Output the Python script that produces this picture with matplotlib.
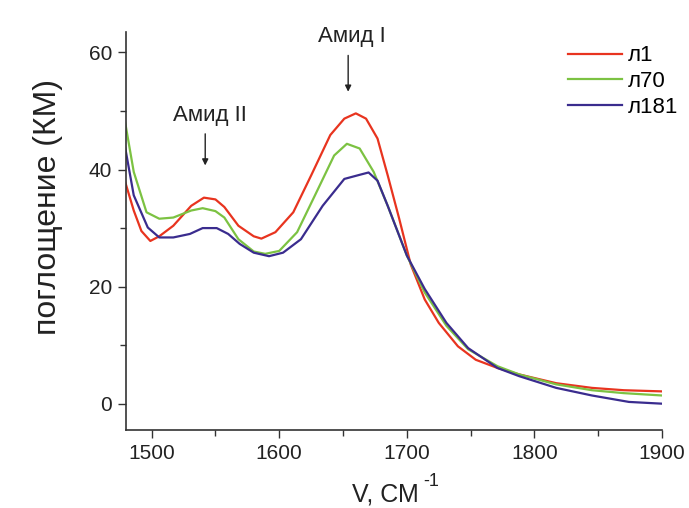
import matplotlib
matplotlib.use('Agg')
from matplotlib import pyplot as plt
from matplotlib.ticker import MultipleLocator

plt.rcParams['font.family'] = ['Liberation Sans', 'DejaVu Sans']

# wavenumber (cm-1) / absorbance (KM)
wn_l1 = [1479, 1486, 1492, 1499, 1506, 1517, 1531, 1541, 1550, 1557, 1568, 1580,
         1586, 1597, 1611, 1625, 1640, 1651, 1660, 1668, 1677, 1685, 1694, 1703,
         1714, 1725, 1740, 1754, 1771, 1788, 1817, 1845, 1870, 1900]
ab_l1 = [38.1, 33.0, 29.5, 27.8, 28.6, 30.4, 33.8, 35.2, 34.9, 33.6, 30.4, 28.6,
         28.2, 29.3, 32.7, 39.0, 45.9, 48.7, 49.6, 48.7, 45.3, 39.0, 31.6, 23.8,
         17.8, 13.8, 9.8, 7.5, 6.1, 5.0, 3.5, 2.7, 2.3, 2.1]

wn_l70 = [1479, 1486, 1496, 1506, 1517, 1531, 1540, 1550, 1557, 1568, 1580, 1589,
          1600, 1614, 1628, 1643, 1653, 1663, 1674, 1685, 1700, 1714, 1731, 1748,
          1771, 1788, 1817, 1845, 1870, 1900]
ab_l70 = [48.4, 39.6, 32.7, 31.6, 31.8, 33.0, 33.4, 32.9, 31.8, 28.1, 26.0, 25.6,
          26.1, 29.3, 35.6, 42.4, 44.4, 43.6, 39.6, 33.8, 25.3, 19.0, 13.3, 9.3,
          6.4, 5.0, 3.3, 2.3, 1.8, 1.4]

wn_l181 = [1479, 1486, 1497, 1506, 1517, 1530, 1540, 1551, 1560, 1569, 1580, 1592,
           1603, 1617, 1634, 1651, 1663, 1670, 1677, 1685, 1700, 1714, 1731, 1748,
           1771, 1788, 1817, 1845, 1874, 1900]
ab_l181 = [44.1, 35.6, 30.1, 28.4, 28.4, 29.0, 30.0, 30.0, 29.0, 27.3, 25.8, 25.2,
           25.8, 28.1, 33.8, 38.4, 39.1, 39.5, 38.1, 33.8, 25.3, 19.6, 13.8, 9.5,
           6.1, 4.7, 2.7, 1.4, 0.3, 0.0]

labels = ['л1', 'л70', 'л181']
colors = ['#e8341f', '#7cc242', '#3a2c8e']

fig = plt.figure(figsize=(6.89, 5.08), dpi=100)
ax = fig.add_axes([0.183, 0.1535, 0.778, 0.7835])

for x, y, lab, c in zip([wn_l1, wn_l70, wn_l181], [ab_l1, ab_l70, ab_l181],
                        labels, colors):
    ax.plot(x, y, color=c, lw=1.6, label=lab)

ax.set_xlim(1480, 1900)
ax.set_ylim(-4.5, 63.5)
ax.xaxis.set_major_locator(MultipleLocator(100))
ax.xaxis.set_minor_locator(MultipleLocator(50))
ax.yaxis.set_major_locator(MultipleLocator(20))
ax.yaxis.set_minor_locator(MultipleLocator(10))
ax.tick_params(which='both', direction='out', labelsize=15, color='#333333',
               labelcolor='#222222')
ax.tick_params(which='major', length=6, width=1, pad=4)
ax.tick_params(which='minor', length=4, width=1)
for s in ['top', 'right']:
    ax.spines[s].set_visible(False)
for s in ['left', 'bottom']:
    ax.spines[s].set_linewidth(1.2)
    ax.spines[s].set_color('#333333')

ax.set_ylabel('поглощение (КМ)', fontsize=23, color='#222222')
ax.yaxis.set_label_coords(-0.118, 0.56)
# x label drawn by hand so the superscript can sit high like in the original
fig.text(0.559, 0.026, 'V, СМ', fontsize=18, ha='center', va='center',
         color='#222222')
fig.text(0.615, 0.053, '-1', fontsize=13, ha='left', va='center',
         color='#222222')

# peak annotations
arrow = dict(arrowstyle='-|>', color='#222222', lw=1, mutation_scale=9,
             shrinkA=0, shrinkB=0)
ax.text(1657, 62.8, 'Амид I', ha='center', va='center', fontsize=16,
        color='#222222')
ax.annotate('', xy=(1654, 53.3), xytext=(1654, 59.5), arrowprops=arrow)
ax.text(1545.5, 49.2, 'Амид II', ha='center', va='center', fontsize=16,
        color='#222222')
ax.annotate('', xy=(1542, 40.7), xytext=(1542, 46.1), arrowprops=arrow)

ax.legend(loc='upper right', bbox_to_anchor=(1.054, 1.0), frameon=False,
          fontsize=16, handlelength=2.4, handletextpad=0.25, labelspacing=0.22,
          borderaxespad=0.2)

fig.savefig('out.png', dpi=100)
